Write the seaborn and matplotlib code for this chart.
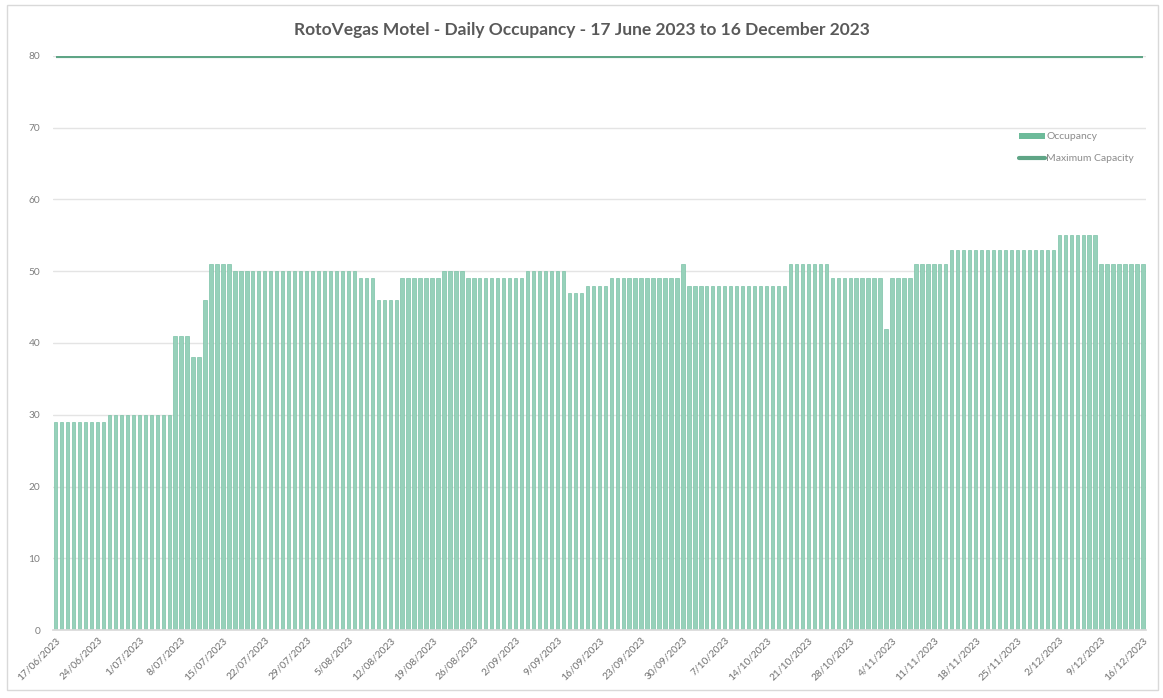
import numpy as np
import pandas as pd
import matplotlib
matplotlib.use("Agg")
import matplotlib.pyplot as plt
import seaborn as sns
from matplotlib.patches import Patch, Rectangle
from matplotlib.lines import Line2D

# daily occupancy 17/06/2023 - 16/12/2023
occupancy = [
    29, 29, 29, 29, 29, 29, 29, 29, 29, 30, 30, 30, 30, 30, 30, 30, 30, 30, 30, 30,
    41, 41, 41, 38, 38, 46, 51, 51, 51, 51,
    50, 50, 50, 50, 50, 50, 50, 50, 50, 50, 50, 50, 50, 50, 50, 50, 50, 50, 50, 50, 50,
    49, 49, 49, 46, 46, 46, 46, 49, 49, 49, 49, 49, 49, 49,
    50, 50, 50, 50, 49, 49, 49, 49, 49, 49, 49, 49, 49, 49,
    50, 50, 50, 50, 50, 50, 50, 47, 47, 47, 48, 48, 48, 48,
    49, 49, 49, 49, 49, 49, 49, 49, 49, 49, 49, 49, 51,
    48, 48, 48, 48, 48, 48, 48, 48, 48, 48, 48, 48, 48, 48, 48, 48, 48,
    51, 51, 51, 51, 51, 51, 51, 49, 49, 49, 49, 49, 49, 49, 49, 49, 42, 49, 49, 49, 49,
    51, 51, 51, 51, 51, 51,
    53, 53, 53, 53, 53, 53, 53, 53, 53, 53, 53, 53, 53, 53, 53, 53, 53, 53,
    55, 55, 55, 55, 55, 55, 55, 51, 51, 51, 51, 51, 51, 51, 51,
]
dates = pd.date_range("2023-06-17", "2023-12-16", freq="D")
capacity = [80] * len(dates)
yticks = [0, 10, 20, 30, 40, 50, 60, 70, 80]

title = "RotoVegas Motel - Daily Occupancy - 17 June 2023 to 16 December 2023"

date_labels = [f"{d.day}/{d.month:02d}/{d.year}" for d in dates]
df = pd.DataFrame({"Date": date_labels, "Occupancy": occupancy})

bar_col = "#97D1BA"
line_col = "#5FA586"
grey = "#7F7F7F"

sns.set_theme(style="white")
plt.rcParams["font.family"] = ["Lato", "DejaVu Sans"]

fig = plt.figure(figsize=(11.63, 6.98), dpi=100)
ax = fig.add_axes([0.0453, 0.0974, 0.940, 0.8224])

sns.barplot(data=df, x="Date", y="Occupancy", color=bar_col, saturation=1,
            width=0.56, edgecolor="#7CC3A7", linewidth=0.5, ax=ax)
ax.plot(np.arange(len(dates)), capacity, color=line_col, lw=3, solid_capstyle="butt")

ax.set_ylim(0, 80)
ax.set_xlim(-0.5, len(dates) - 0.5)
ax.set_yticks(yticks)
ax.yaxis.grid(True, color="#E4E4E4", lw=1)
ax.set_axisbelow(True)

ticks = np.arange(0, len(dates), 7)
ax.set_xticks(ticks)
ax.set_xticklabels([date_labels[i] for i in ticks], rotation=45, ha="right",
                   rotation_mode="anchor", fontsize=7.3, color="#707070")
ax.tick_params(axis="y", labelsize=7.3, labelcolor=grey, length=0, pad=9)
ax.tick_params(axis="x", length=0, pad=4)
ax.set_xlabel("")
ax.set_ylabel("")

for s in ["top", "right", "left"]:
    ax.spines[s].set_visible(False)
ax.spines["bottom"].set_color("#D9D9D9")

handles = [Patch(facecolor="#6DBB9A", edgecolor="none"),
           Line2D([0], [0], color=line_col, lw=3)]
fig.legend(handles, ["Occupancy", "Maximum Capacity"], loc="upper left",
           bbox_to_anchor=(1010 / 1163, 1 - 123 / 698), frameon=False,
           fontsize=7.5, labelcolor="#8C8C8C", handlelength=2.5, handleheight=0.5,
           labelspacing=1.2, handletextpad=0.1)

fig.text(0.5, 1 - 30 / 698, title, ha="center", va="center", fontsize=12.5,
         fontweight="bold", color="#595959")

fig.patches.append(Rectangle((7 / 1163, 1 - 690 / 698), 1151 / 1163, 685 / 698,
                             transform=fig.transFigure, fill=False,
                             edgecolor="#D9D9D9", lw=1))

fig.savefig("out.png", dpi=100)
